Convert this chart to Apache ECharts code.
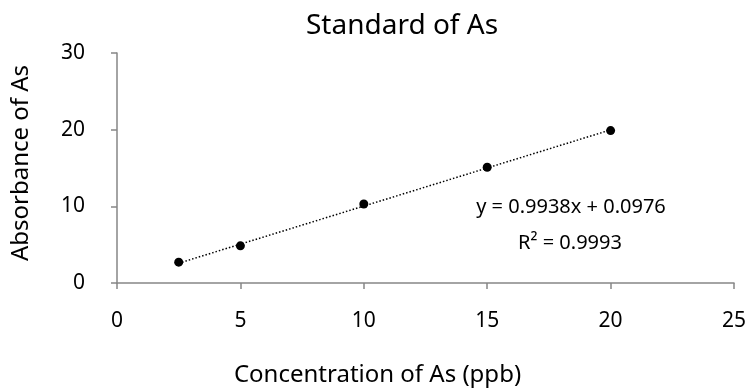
<!DOCTYPE html>
<html><head><meta charset="utf-8">
<script src="https://cdn.jsdelivr.net/npm/echarts@6/dist/echarts.min.js"></script>
<style>html,body{margin:0;padding:0;background:#fff}#c{width:750px;height:388px}</style>
</head><body><div id="c"></div>
<script>
const concentration = [2.5, 5, 10, 15, 20];
const absorbance = [2.72, 4.85, 10.3, 15.1, 19.88];
const trendSlope = 0.9938;
const trendIntercept = 0.0976;
const xTicks = [0, 5, 10, 15, 20, 25];
const yTicks = [0, 10, 20, 30];
const equationText = 'y = 0.9938x + 0.0976';
const r2Text = 'R² = 0.9993';

const F = '"Noto Sans", "DejaVu Sans", sans-serif';
const chart = echarts.init(document.getElementById('c'));
const x0 = concentration[0], x1 = concentration[concentration.length - 1];
chart.setOption({
  animation: false,
  title: { text: 'Standard of As', left: 397, textAlign: 'center', top: 7,
    textStyle: { fontFamily: F, fontSize: 28, fontWeight: 'normal', color: '#000' } },
  grid: { left: 117, right: 16, top: 53, bottom: 105, outerBoundsMode: 'none', containLabel: false },
  xAxis: { type: 'value', min: xTicks[0], max: xTicks[xTicks.length-1], interval: 5,
    name: 'Concentration of As (ppb)', nameLocation: 'middle', nameGap: 80,
    nameTextStyle: { fontFamily: F, fontSize: 24, color: '#000', padding: [0, 96, 0, 0] },
    axisLine: { lineStyle: { color: '#868686', width: 1.5 } },
    axisTick: { inside: false, length: 6, lineStyle: { color: '#868686', width: 1.5 } },
    axisLabel: { fontFamily: F, fontSize: 21, color: '#000', margin: 28 },
    splitLine: { show: false } },
  yAxis: { type: 'value', min: yTicks[0], max: yTicks[yTicks.length-1], interval: 10,
    name: 'Absorbance of As', nameLocation: 'middle', nameGap: 84,
    nameTextStyle: { fontFamily: F, fontSize: 24, color: '#000', padding: [0, 0, 0, 10] },
    axisLine: { show: true, lineStyle: { color: '#868686', width: 1.5 } },
    axisTick: { show: true, length: 6, lineStyle: { color: '#868686', width: 1.5 } },
    axisLabel: { fontFamily: F, fontSize: 21, color: '#000', margin: 32 },
    splitLine: { show: false } },
  series: [
    { type: 'line', data: [[x0, trendSlope*x0 + trendIntercept], [x1, trendSlope*x1 + trendIntercept]],
      showSymbol: false, lineStyle: { color: '#000', width: 1.5, type: [1.5, 2] }, z: 1 },
    { type: 'scatter', data: concentration.map((c, i) => [c, absorbance[i]]),
      symbol: 'circle', symbolSize: 9, itemStyle: { color: '#000', opacity: 1 }, z: 3 }
  ],
  graphic: [
    { type: 'text', x: 571, y: 207, style: { text: equationText, font: '20px ' + F, fill: '#000', textAlign: 'center', textVerticalAlign: 'middle' } },
    { type: 'text', x: 570, y: 243, style: { text: r2Text, font: '20px ' + F, fill: '#000', textAlign: 'center', textVerticalAlign: 'middle' } }
  ]
});
</script></body></html>
